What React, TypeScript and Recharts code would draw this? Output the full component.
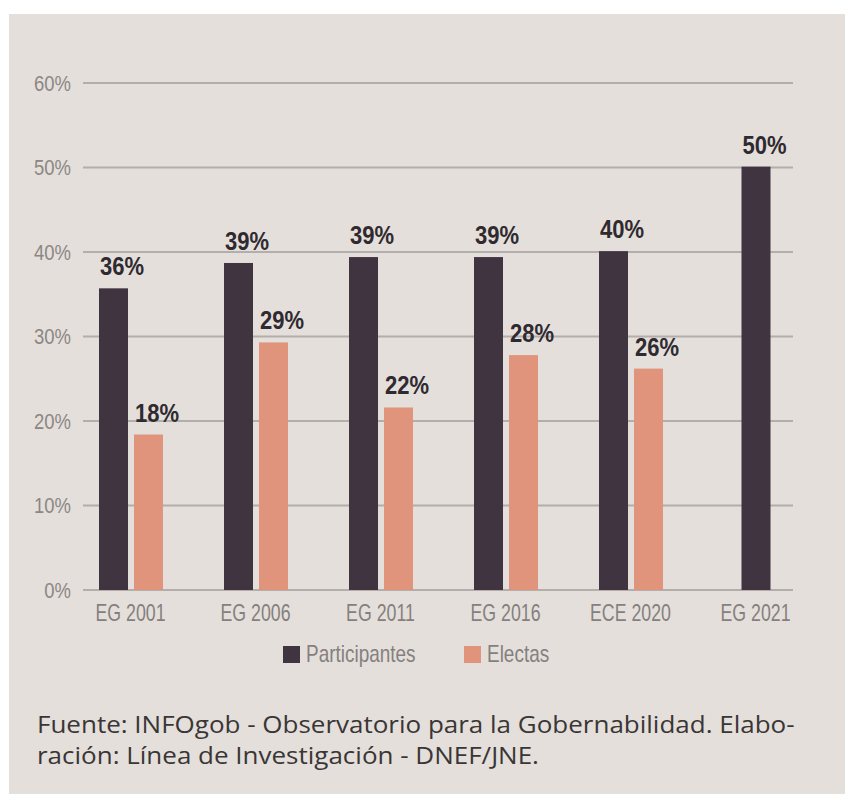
import { BarChart, Bar, XAxis, YAxis, CartesianGrid, Legend } from 'recharts';

const categories = ['EG 2001', 'EG 2006', 'EG 2011', 'EG 2016', 'ECE 2020', 'EG 2021'];
const participantes = [35.7, 38.7, 39.4, 39.4, 40.1, 50.1];
const electas: (number | null)[] = [18.4, 29.3, 21.6, 27.8, 26.2, null];
const yTicks = [0, 10, 20, 30, 40, 50, 60];

const DARK = '#3f3440';
const LIGHT = '#e0947c';
// narrow look: Liberation Sans squeezed horizontally
const SANS = '"Liberation Sans", Arial, sans-serif';
const BAR_SIZE = 29;
const BAR_GAP = 6;

const data = categories.map((name, i) => ({
  name,
  participantes: participantes[i],
  electas: electas[i],
}));

// bar + its value label; a lone bar (no "electas") is centred in its category
function makeShape(key: 'participantes' | 'electas', fill: string) {
  return (props: any) => {
    const { x, y, width, height, payload } = props;
    const shift = key === 'participantes' && payload.electas == null ? (BAR_SIZE + BAR_GAP) / 2 : 0;
    return (
      <g>
        <rect x={x + shift} y={y} width={width} height={height} fill={fill} />
        <text
          transform={`translate(${x + shift + 1},${y - 13}) scale(0.88,1)`}
          fill="#2f2a30"
          fontFamily={SANS}
          fontWeight="bold"
          fontSize={25}
        >
          {Math.round(payload[key])}%
        </text>
      </g>
    );
  };
}

function YTick(props: any) {
  const { x, y, payload } = props;
  return (
    <text
      transform={`translate(${x},${y}) scale(0.84,1)`}
      textAnchor="end"
      dy="0.355em"
      fill="#8b8784"
      fontSize={22}
      fontFamily={SANS}
    >
      {payload.value}%
    </text>
  );
}

function XTick(props: any) {
  const { x, y, payload } = props;
  return (
    <text
      transform={`translate(${x},${y}) scale(0.74,1)`}
      textAnchor="middle"
      dy="0.71em"
      fill="#85807e"
      fontSize={24}
      fontFamily={SANS}
    >
      {payload.value}
    </text>
  );
}

function LegendContent() {
  const items = [
    { label: 'Participantes', color: DARK, w: 109 },
    { label: 'Electas', color: LIGHT, w: 57 },
  ];
  return (
    <div style={{ display: 'flex', alignItems: 'center', height: 28, marginLeft: 274, gap: 49 }}>
      {items.map((it) => (
        <div key={it.label} style={{ display: 'flex', alignItems: 'center' }}>
          <span style={{ width: 17, height: 17, background: it.color, display: 'inline-block', marginRight: 6 }} />
          <span style={{ display: 'inline-block', width: it.w, whiteSpace: 'nowrap' }}>
            <span
              style={{
                display: 'inline-block',
                fontFamily: SANS,
                fontSize: 24,
                color: '#85807e',
                transform: 'scaleX(0.79)',
                transformOrigin: 'left center',
              }}
            >
              {it.label}
            </span>
          </span>
        </div>
      ))}
    </div>
  );
}

export default function App() {
  return (
    <>
      <style>{'body{margin:0;overflow:hidden}'}</style>
      <div
        style={{
          position: 'absolute',
          left: 9,
          top: 14,
          width: 836,
          height: 780,
          background: '#e4dfdb',
          overflow: 'hidden',
        }}
      >
        <BarChart
          width={836}
          height={680}
          data={data}
          margin={{ top: 69, right: 52, bottom: 26, left: 0 }}
          barSize={BAR_SIZE}
          barGap={BAR_GAP}
        >
          <CartesianGrid vertical={false} stroke="#b3aeab" strokeWidth={2} />
          <XAxis
            dataKey="name"
            axisLine={false}
            tickLine={false}
            tickSize={0}
            tickMargin={14}
            height={50}
            padding={{ left: -15, right: -25 }}
            tick={<XTick />}
            interval={0}
          />
          <YAxis
            width={74}
            domain={[0, 60]}
            ticks={yTicks}
            axisLine={false}
            tickLine={false}
            tickSize={0}
            tickMargin={12}
            tick={<YTick />}
          />
          <Legend
            verticalAlign="bottom"
            content={<LegendContent />}
            wrapperStyle={{ left: 0, width: 836 }}
          />
          <Bar
            dataKey="participantes"
            name="Participantes"
            fill={DARK}
            shape={makeShape('participantes', DARK)}
            isAnimationActive={false}
          />
          <Bar
            dataKey="electas"
            name="Electas"
            fill={LIGHT}
            shape={makeShape('electas', LIGHT)}
            isAnimationActive={false}
          />
        </BarChart>
        <div
          style={{
            position: 'absolute',
            left: 28,
            top: 695,
            width: 700,
            fontFamily: '"Open Sans", sans-serif',
            fontSize: 23,
            lineHeight: '31px',
            color: '#3a3636',
            whiteSpace: 'nowrap',
            transform: 'scaleX(1.13)',
            transformOrigin: 'left top',
          }}
        >
          Fuente: INFOgob - Observatorio para la Gobernabilidad. Elabo-
          <br />
          ración: Línea de Investigación - DNEF/JNE.
        </div>
      </div>
    </>
  );
}
